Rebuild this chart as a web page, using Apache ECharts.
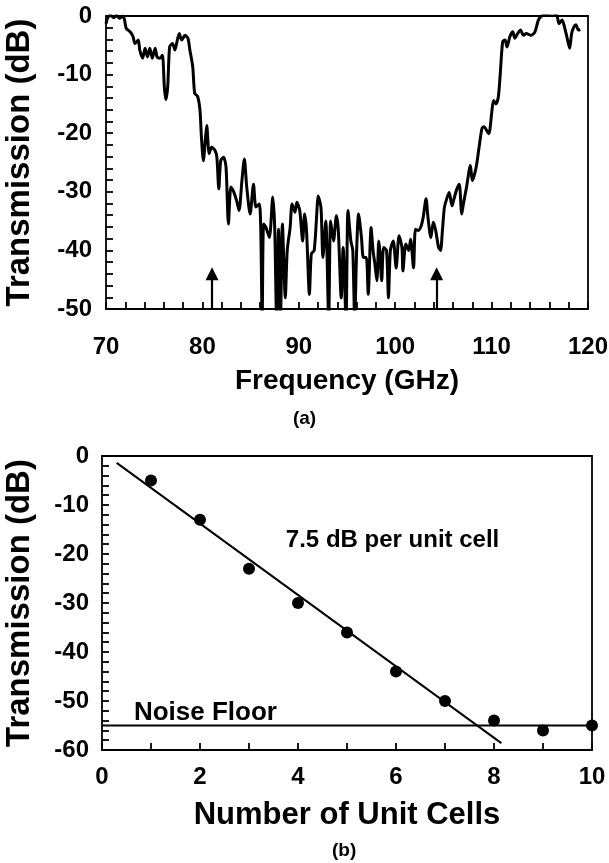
<!DOCTYPE html>
<html>
<head>
<meta charset="utf-8">
<script src="https://cdn.jsdelivr.net/npm/echarts@6/dist/echarts.min.js"></script>
<style>
  html, body { margin: 0; padding: 0; background: #fff; }
  #chart { width: 609px; height: 863px; }
</style>
</head>
<body>
<div id="chart"></div>
<script>
// (a) measured transmission spectrum
const spectrumFreq = [
  70.0, 70.2, 70.5, 70.8, 71.1, 71.4, 71.7, 71.9, 72.1, 72.5, 72.8, 73.0, 73.35, 73.5, 73.8,
  74.05, 74.3, 74.55, 74.8, 75.1, 75.3, 75.6, 75.85, 76.05, 76.2, 76.4, 76.6, 76.9, 77.15, 77.4,
  77.6, 77.85, 78.2, 78.5, 78.7, 79.0, 79.2, 79.5, 79.75, 79.9, 80.1, 80.3, 80.45, 80.7, 80.95,
  81.3, 81.5, 81.7, 81.9, 82.2, 82.45, 82.7, 82.95, 83.2, 83.55, 83.8, 84.1, 84.35, 84.6, 84.95,
  85.3, 85.55, 85.9, 86.05, 86.2, 86.35, 86.6, 86.95, 87.3, 87.5, 87.7, 87.9, 88.1, 88.3, 88.6,
  88.8, 89.1, 89.3, 89.6, 89.8, 90.1, 90.4, 90.6, 90.8, 91.1, 91.3, 91.6, 91.9, 92.0, 92.3,
  92.5, 92.8, 93.1, 93.3, 93.6, 93.9, 94.1, 94.4, 94.6, 94.9, 95.1, 95.4, 95.6, 95.8, 96.0,
  96.2, 96.5, 96.7, 97.0, 97.2, 97.5, 97.7, 97.9, 98.1, 98.3, 98.4, 98.6, 98.8, 99.1, 99.3,
  99.5, 99.8, 100.1, 100.4, 100.7, 100.8, 101.1, 101.4, 101.6, 101.9, 102.1, 102.4, 102.7, 102.9, 103.2,
  103.4, 103.7, 103.95, 104.2, 104.5, 104.7, 104.9, 105.1, 105.4, 105.6, 105.9, 106.1, 106.4, 106.65, 106.9,
  107.07, 107.4, 107.8, 108.0, 108.4, 108.7, 109.0, 109.2, 109.7, 110.0, 110.2, 110.45, 110.7, 110.9, 111.15,
  111.4, 111.6, 111.9, 112.2, 112.4, 112.7, 113.0, 113.3, 113.6, 114.1, 114.5, 114.85, 115.2, 115.7, 116.2,
  116.75, 117.0, 117.3, 117.5, 117.8, 118.1, 118.3, 118.55, 118.75, 119.0, 119.2
];
const spectrumDb = [
  -1.3, -0.2, 0.1, -0.3, 0.1, -0.4, 0.0, -0.5, -2.1, -2.7, -3.5, -4.7, -4.1, -5.8, -7.2,
  -5.5, -7.0, -5.5, -7.2, -5.5, -7.0, -7.2, -6.7, -12.1, -14.3, -12.1, -5.3, -4.7, -5.8, -4.1,
  -3.0, -4.1, -3.3, -3.8, -5.8, -8.7, -13.2, -13.7, -16.1, -20.7, -24.7, -21.2, -18.7, -23.5, -22.4,
  -22.9, -24.1, -29.5, -24.7, -24.1, -25.8, -35.5, -29.2, -29.8, -31.5, -33.2, -28.1, -24.4, -29.2, -33.8,
  -28.7, -32.6, -32.1, -36.0, -52.0, -35.5, -36.1, -37.8, -30.9, -36.1, -52.0, -36.4, -52.0, -35.5, -48.1,
  -40.0, -36.1, -32.1, -33.5, -31.8, -33.2, -38.4, -33.8, -36.6, -47.5, -40.6, -40.0, -32.7, -30.7, -32.7,
  -41.2, -35.0, -52.0, -35.0, -38.4, -34.1, -36.6, -48.1, -39.5, -52.0, -33.2, -38.4, -40.0, -52.0, -40.0,
  -33.8, -37.8, -41.2, -41.2, -47.5, -36.1, -40.0, -42.4, -45.2, -38.4, -40.0, -45.2, -39.5, -40.0, -48.1,
  -40.0, -38.4, -43.0, -37.5, -39.5, -43.5, -38.9, -40.0, -38.1, -43.0, -36.4, -36.6, -35.8, -34.4, -31.2,
  -34.4, -37.8, -35.2, -36.6, -39.5, -40.0, -36.6, -32.7, -30.9, -30.1, -32.4, -31.2, -29.5, -28.7, -33.8,
  -32.1, -29.2, -25.5, -28.1, -25.8, -22.4, -19.2, -18.9, -20.1, -16.7, -14.4, -15.0, -13.8, -9.8, -4.4,
  -4.1, -5.3, -3.5, -2.7, -3.8, -3.0, -2.4, -3.3, -3.0, -3.3, -2.7, -0.7, 0.0, 0.3, 0.5,
  0.2, -1.3, -0.7, -1.5, -3.5, -5.5, -3.0, -1.8, -1.5, -2.4, -2.3
];
// band-edge markers (GHz) and the level their arrow tips reach
const arrowFreqs = [81, 104.3];
const arrowTipDb = -44;

// (b) transmission against number of unit cells
const unitCells = [1, 2, 3, 4, 5, 6, 7, 8, 9, 10];
const cellDb = [-5, -13, -23, -30, -36, -44, -50, -54, -56, -55];
const fitCells = [0.3, 8.15];
const fitDb = [-1.4, -58.6];
const noiseCells = [0, 10];
const noiseDb = [-55, -55];

const FONT = 'Liberation Sans';
const zip = (xs, ys) => xs.map((x, i) => [x, ys[i]]);

const tickText = () => ({ color: '#000', fontFamily: FONT, fontWeight: 'bold', fontSize: 24 });
const tickLine = () => ({ color: '#000', width: 1.8 });
const frameLine = () => ({ show: true, onZero: false, lineStyle: { color: '#000', width: 1.8 } });

// left/bottom axes: labels plus inward major and minor ticks
function valueAxis(extra) {
  return Object.assign({
    type: 'value',
    axisLine: frameLine(),
    axisTick: { show: true, inside: true, length: 7, lineStyle: tickLine() },
    minorTick: { show: true, splitNumber: 5, length: 7, lineStyle: tickLine() },
    splitLine: { show: false },
    nameLocation: 'middle'
  }, extra);
}

// plain axes on the top and right edges that close each plot frame
function frameAxis(extra) {
  return Object.assign({
    type: 'value',
    axisLine: frameLine(),
    axisTick: { show: false },
    minorTick: { show: false },
    splitLine: { show: false },
    axisLabel: { show: false }
  }, extra);
}

const chart = echarts.init(document.getElementById('chart'));

chart.setOption({
  backgroundColor: '#fff',
  animation: false,
  grid: [
    { left: 106, right: 21, top: 16, bottom: 554, outerBoundsMode: 'none' },
    { left: 102, right: 17, top: 456, bottom: 113, outerBoundsMode: 'none' }
  ],
  xAxis: [
    valueAxis({
      gridIndex: 0, min: 70, max: 120, interval: 10,
      name: 'Frequency (GHz)', nameGap: 58,
      nameTextStyle: { color: '#000', fontFamily: FONT, fontWeight: 'bold', fontSize: 28 },
      axisLabel: Object.assign(tickText(), { margin: 26 })
    }),
    valueAxis({
      gridIndex: 1, min: 0, max: 10, interval: 2,
      minorTick: { show: true, splitNumber: 2, length: 7, lineStyle: tickLine() },
      name: 'Number of Unit Cells', nameGap: 50,
      nameTextStyle: { color: '#000', fontFamily: FONT, fontWeight: 'bold', fontSize: 31 },
      axisLabel: Object.assign(tickText(), { margin: 15 })
    }),
    frameAxis({ gridIndex: 0, position: 'top', min: 70, max: 120 }),
    frameAxis({ gridIndex: 1, position: 'top', min: 0, max: 10 })
  ],
  yAxis: [
    valueAxis({
      gridIndex: 0, min: -50, max: 0, interval: 10,
      name: 'Transmission (dB)', nameGap: 70,
      nameTextStyle: { color: '#000', fontFamily: FONT, fontWeight: 'bold', fontSize: 33 },
      axisLabel: Object.assign(tickText(), { margin: 14 })
    }),
    valueAxis({
      gridIndex: 1, min: -60, max: 0, interval: 10,
      name: 'Transmission (dB)', nameGap: 66,
      nameTextStyle: { color: '#000', fontFamily: FONT, fontWeight: 'bold', fontSize: 33 },
      axisLabel: Object.assign(tickText(), { margin: 13 })
    }),
    frameAxis({ gridIndex: 0, position: 'right', min: -50, max: 0 }),
    frameAxis({ gridIndex: 1, position: 'right', min: -60, max: 0 })
  ],
  graphic: [
    { type: 'text', left: 'center', top: 409, style: { text: '(a)', fill: '#000', font: 'bold 19px ' + FONT } },
    { type: 'text', left: 332, top: 841, style: { text: '(b)', fill: '#000', font: 'bold 19px ' + FONT } }
  ],
  series: [
    {
      name: 'spectrum', type: 'line', xAxisIndex: 0, yAxisIndex: 0,
      data: zip(spectrumFreq, spectrumDb),
      symbol: 'none', smooth: 0.25, clip: true,
      lineStyle: { color: '#000', width: 3 },
      markLine: {
        silent: true, symbol: ['none', 'triangle'], symbolSize: [13, 13],
        lineStyle: { color: '#000', width: 2.2, type: 'solid' },
        label: { show: false },
        data: arrowFreqs.map(f => [{ coord: [f, -50] }, { coord: [f, arrowTipDb] }])
      }
    },
    {
      name: 'fit', type: 'line', xAxisIndex: 1, yAxisIndex: 1,
      data: zip(fitCells, fitDb), symbol: 'none',
      lineStyle: { color: '#000', width: 2 },
      markPoint: {
        symbol: 'rect', symbolSize: 0,
        label: { show: true, position: 'right', color: '#000', fontFamily: FONT, fontWeight: 'bold', fontSize: 24, formatter: '7.5 dB per unit cell' },
        data: [{ coord: [3.65, -17.3] }]
      }
    },
    {
      name: 'noise floor', type: 'line', xAxisIndex: 1, yAxisIndex: 1,
      data: zip(noiseCells, noiseDb), symbol: 'none',
      lineStyle: { color: '#000', width: 2 },
      markPoint: {
        symbol: 'rect', symbolSize: 0,
        label: { show: true, position: 'right', color: '#000', fontFamily: FONT, fontWeight: 'bold', fontSize: 26, formatter: 'Noise Floor' },
        data: [{ coord: [0.55, -52.5] }]
      }
    },
    {
      name: 'cells', type: 'scatter', xAxisIndex: 1, yAxisIndex: 1,
      data: zip(unitCells, cellDb), symbol: 'circle', symbolSize: 12,
      itemStyle: { color: '#000', opacity: 1 }, clip: false
    }
  ]
});
</script>
</body>
</html>
